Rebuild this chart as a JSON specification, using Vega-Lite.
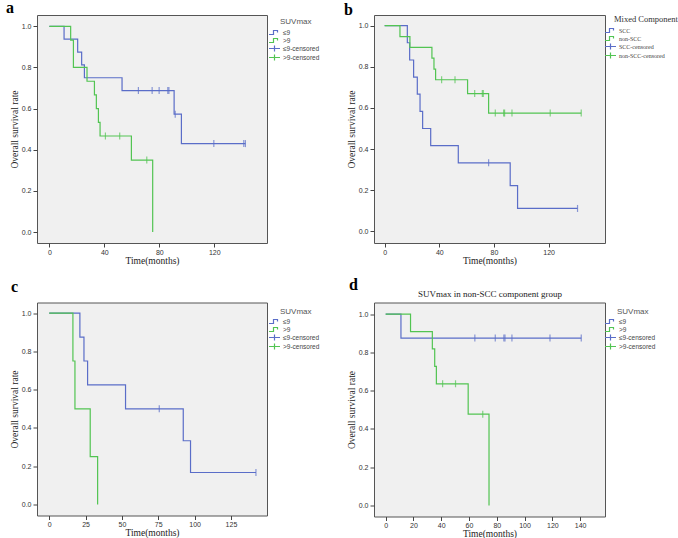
{
  "$schema": "https://vega.github.io/schema/vega-lite/v6.json",
  "background": "white",
  "padding": {"left": 5, "top": -1, "right": 0, "bottom": 0},
  "config": {
    "view": {"fill": "#F0F0F0", "stroke": "#555555", "strokeWidth": 1},
    "axis": {"domain": false, "grid": false, "tickColor": "#444444", "tickSize": 4, "labelFont": "Liberation Sans", "labelFontSize": 7, "labelColor": "#333333", "labelPadding": 2, "titleFont": "Liberation Serif", "titleFontSize": 9.5, "titleFontWeight": "normal", "titleColor": "#222222", "titlePadding": 2},
    "axisX": {"labelPadding": 1, "titlePadding": 0},
    "legend": {"orient": "none", "padding": 0, "symbolSize": 25, "rowPadding": 0, "labelOffset": 5, "symbolStrokeWidth": 1.2, "titleFontWeight": "normal", "labelColor": "#444444", "labelLimit": 200, "titleLimit": 200},
    "title": {"font": "Liberation Serif", "fontSize": 16, "fontWeight": "bold", "anchor": "start", "frame": "group", "color": "#000000", "baseline": "alphabetic"}
  },
  "columns": 2,
  "spacing": {"row": 59.5, "column": 107},
  "bounds": "flush",
  "resolve": {"scale": {"color": "independent"}, "legend": {"color": "independent"}},
  "concat": [
        {
          "width": 230, "height": 228,
          "title": {"text": "a", "dx": -31, "offset": -1},
          "data": {"values": [
            {"t": 0, "s": 1, "g": "≤9"}, {"t": 10.7, "s": 0.9375, "g": "≤9"}, {"t": 20.6, "s": 0.875, "g": "≤9"}, {"t": 23.5, "s": 0.8125, "g": "≤9"}, {"t": 25.5, "s": 0.75, "g": "≤9"}, {"t": 52.9, "s": 0.6875, "g": "≤9"},
            {"t": 64.8, "s": 0.6875, "g": "≤9", "cg": "≤9-censored"}, {"t": 74.8, "s": 0.6875, "g": "≤9", "cg": "≤9-censored"}, {"t": 79.9, "s": 0.6875, "g": "≤9", "cg": "≤9-censored"}, {"t": 86.2, "s": 0.6875, "g": "≤9", "cg": "≤9-censored"}, {"t": 87.0, "s": 0.6875, "g": "≤9", "cg": "≤9-censored"},
            {"t": 90.8, "s": 0.573, "g": "≤9"}, {"t": 91.6, "s": 0.573, "g": "≤9", "cg": "≤9-censored"}, {"t": 96.1, "s": 0.43, "g": "≤9"}, {"t": 119.7, "s": 0.43, "g": "≤9", "cg": "≤9-censored"}, {"t": 141.5, "s": 0.43, "g": "≤9", "cg": "≤9-censored"}, {"t": 142.7, "s": 0.43, "g": "≤9", "cg": "≤9-censored"},
            {"t": 0, "s": 1, "g": ">9"}, {"t": 15.5, "s": 0.933, "g": ">9"}, {"t": 17.5, "s": 0.8, "g": ">9"}, {"t": 27.4, "s": 0.733, "g": ">9"}, {"t": 32.8, "s": 0.667, "g": ">9"}, {"t": 34.2, "s": 0.6, "g": ">9"}, {"t": 35.7, "s": 0.533, "g": ">9"}, {"t": 36.9, "s": 0.467, "g": ">9"},
            {"t": 40.8, "s": 0.467, "g": ">9", "cg": ">9-censored"}, {"t": 51.2, "s": 0.467, "g": ">9", "cg": ">9-censored"}, {"t": 59.7, "s": 0.35, "g": ">9"}, {"t": 70.9, "s": 0.35, "g": ">9", "cg": ">9-censored"}, {"t": 75.2, "s": 0, "g": ">9"}
          ]},
          "layer": [
            {
              "mark": {"type": "line", "interpolate": "step-after", "strokeWidth": 1.2},
              "encoding": {
                "x": {"field": "t", "type": "quantitative", "scale": {"domain": [-9, 158.4], "nice": false, "zero": false}, "axis": {"title": "Time(months)", "values": [0, 20, 40, 60, 80, 100, 120, 140]}},
                "y": {"field": "s", "type": "quantitative", "scale": {"domain": [-0.053, 1.055], "nice": false, "zero": false}, "axis": {"title": "Overall survival rate", "values": [0, 0.2, 0.4, 0.6, 0.8, 1], "format": ".1f"}},
                "color": {"field": "g", "type": "nominal", "scale": {"domain": ["≤9", ">9", "≤9-censored", ">9-censored"], "range": ["#5A6DC8", "#52C452", "#5A6DC8", "#52C452"]},
                  "legend": {"title": "SUVmax", "legendX": 234, "legendY": 2.5, "titleFont": "Liberation Sans", "titleFontSize": 8, "titleColor": "#555555", "titlePadding": 3.5, "labelFont": "Liberation Sans", "labelFontSize": 6.5, "rowPadding": -2.9,
                    "encode": {"symbols": {"update": {"shape": {"signal": "test(/censored/, datum.value) ? 'M-2.2,0L2.2,0M0,-1.2L0,1.2' : 'M-2.2,0.8L-0.4,0.8L-0.4,-0.8L1.2,-0.8L1.2,0'"}, "fill": {"value": "transparent"}, "fillOpacity": {"value": 0}}}, "title": {"update": {"dx": {"value": 9}}}}}}
              }
            },
            {
              "transform": [{"filter": "datum.cg != null"}],
              "mark": {"type": "tick", "orient": "vertical", "size": 7, "thickness": 1.2},
              "encoding": {
                "x": {"field": "t", "type": "quantitative"},
                "y": {"field": "s", "type": "quantitative"},
                "color": {"field": "cg", "type": "nominal"}
              }
            }
          ]
        },
        {
          "width": 231, "height": 228,
          "title": {"text": "b", "dx": -30, "offset": -3.7},
          "data": {"values": [
            {"t": 0, "s": 1, "g": "SCC"}, {"t": 16.6, "s": 0.917, "g": "SCC"}, {"t": 18.3, "s": 0.833, "g": "SCC"}, {"t": 21.2, "s": 0.75, "g": "SCC"}, {"t": 23.9, "s": 0.667, "g": "SCC"}, {"t": 25.9, "s": 0.583, "g": "SCC"}, {"t": 27.8, "s": 0.5, "g": "SCC"}, {"t": 33.7, "s": 0.417, "g": "SCC"}, {"t": 53.9, "s": 0.333, "g": "SCC"},
            {"t": 76.1, "s": 0.333, "g": "SCC", "cg": "SCC-censored"}, {"t": 91.9, "s": 0.222, "g": "SCC"}, {"t": 97.3, "s": 0.111, "g": "SCC"}, {"t": 141.2, "s": 0.111, "g": "SCC", "cg": "SCC-censored"},
            {"t": 0, "s": 1, "g": "non-SCC"}, {"t": 11.2, "s": 0.947, "g": "non-SCC"}, {"t": 18.5, "s": 0.895, "g": "non-SCC"}, {"t": 34.6, "s": 0.842, "g": "non-SCC"}, {"t": 36.1, "s": 0.789, "g": "non-SCC"}, {"t": 37.3, "s": 0.737, "g": "non-SCC"},
            {"t": 41.7, "s": 0.737, "g": "non-SCC", "cg": "non-SCC-censored"}, {"t": 51.5, "s": 0.737, "g": "non-SCC", "cg": "non-SCC-censored"}, {"t": 60.7, "s": 0.67, "g": "non-SCC"},
            {"t": 65.9, "s": 0.67, "g": "non-SCC", "cg": "non-SCC-censored"}, {"t": 71.5, "s": 0.67, "g": "non-SCC", "cg": "non-SCC-censored"}, {"t": 72.2, "s": 0.67, "g": "non-SCC", "cg": "non-SCC-censored"}, {"t": 76.1, "s": 0.575, "g": "non-SCC"},
            {"t": 81.0, "s": 0.575, "g": "non-SCC", "cg": "non-SCC-censored"}, {"t": 87.1, "s": 0.575, "g": "non-SCC", "cg": "non-SCC-censored"}, {"t": 87.8, "s": 0.575, "g": "non-SCC", "cg": "non-SCC-censored"}, {"t": 93.2, "s": 0.575, "g": "non-SCC", "cg": "non-SCC-censored"}, {"t": 121.2, "s": 0.575, "g": "non-SCC", "cg": "non-SCC-censored"}, {"t": 143.9, "s": 0.575, "g": "non-SCC", "cg": "non-SCC-censored"}
          ]},
          "layer": [
            {
              "mark": {"type": "line", "interpolate": "step-after", "strokeWidth": 1.2},
              "encoding": {
                "x": {"field": "t", "type": "quantitative", "scale": {"domain": [-7.8, 161.3], "nice": false, "zero": false}, "axis": {"title": "Time(months)", "values": [0, 20, 40, 60, 80, 100, 120, 140]}},
                "y": {"field": "s", "type": "quantitative", "scale": {"domain": [-0.057, 1.052], "nice": false, "zero": false}, "axis": {"title": "Overall survival rate", "values": [0, 0.2, 0.4, 0.6, 0.8, 1], "format": ".1f"}},
                "color": {"field": "g", "type": "nominal", "scale": {"domain": ["SCC", "non-SCC", "SCC-censored", "non-SCC-censored"], "range": ["#5A6DC8", "#52C452", "#5A6DC8", "#52C452"]},
                  "legend": {"title": "Mixed Component", "legendX": 233, "legendY": -0.5, "titleFont": "Liberation Serif", "titleFontSize": 8.5, "titleColor": "#333333", "titlePadding": 4, "labelFont": "Liberation Serif", "labelFontSize": 6, "rowPadding": -2,
                    "encode": {"symbols": {"update": {"shape": {"signal": "test(/censored/, datum.value) ? 'M-2.2,0L2.2,0M0,-1.2L0,1.2' : 'M-2.2,0.8L-0.4,0.8L-0.4,-0.8L1.2,-0.8L1.2,0'"}, "fill": {"value": "transparent"}, "fillOpacity": {"value": 0}}}, "title": {"update": {"dx": {"value": 7}}}}}}
              }
            },
            {
              "transform": [{"filter": "datum.cg != null"}],
              "mark": {"type": "tick", "orient": "vertical", "size": 7, "thickness": 1.2},
              "encoding": {
                "x": {"field": "t", "type": "quantitative"},
                "y": {"field": "s", "type": "quantitative"},
                "color": {"field": "cg", "type": "nominal"}
              }
            }
          ]
        },
        {
          "width": 230, "height": 213,
          "title": {"text": "c", "dx": -26, "offset": 7.5},
          "data": {"values": [
            {"t": 0, "s": 1, "g": "≤9"}, {"t": 21.1, "s": 0.875, "g": "≤9"}, {"t": 23.9, "s": 0.75, "g": "≤9"}, {"t": 26.4, "s": 0.625, "g": "≤9"}, {"t": 52.5, "s": 0.5, "g": "≤9"}, {"t": 75.7, "s": 0.5, "g": "≤9", "cg": "≤9-censored"}, {"t": 92.2, "s": 0.333, "g": "≤9"}, {"t": 97.2, "s": 0.167, "g": "≤9"}, {"t": 142.2, "s": 0.167, "g": "≤9", "cg": "≤9-censored"},
            {"t": 0, "s": 1, "g": ">9"}, {"t": 16.3, "s": 0.75, "g": ">9"}, {"t": 17.7, "s": 0.5, "g": ">9"}, {"t": 28.2, "s": 0.25, "g": ">9"}, {"t": 33.3, "s": 0, "g": ">9"}
          ]},
          "layer": [
            {
              "mark": {"type": "line", "interpolate": "step-after", "strokeWidth": 1.2},
              "encoding": {
                "x": {"field": "t", "type": "quantitative", "scale": {"domain": [-8.4, 149.8], "nice": false, "zero": false}, "axis": {"title": "Time(months)", "values": [0, 25, 50, 75, 100, 125]}},
                "y": {"field": "s", "type": "quantitative", "scale": {"domain": [-0.058, 1.056], "nice": false, "zero": false}, "axis": {"title": "Overall survival rate", "values": [0, 0.2, 0.4, 0.6, 0.8, 1], "format": ".1f"}},
                "color": {"field": "g", "type": "nominal", "scale": {"domain": ["≤9", ">9", "≤9-censored", ">9-censored"], "range": ["#5A6DC8", "#52C452", "#5A6DC8", "#52C452"]},
                  "legend": {"title": "SUVmax", "legendX": 234, "legendY": 5, "titleFont": "Liberation Sans", "titleFontSize": 8, "titleColor": "#555555", "titlePadding": 2.5, "labelFont": "Liberation Sans", "labelFontSize": 6.5, "rowPadding": -2.4,
                    "encode": {"symbols": {"update": {"shape": {"signal": "test(/censored/, datum.value) ? 'M-2.2,0L2.2,0M0,-1.2L0,1.2' : 'M-2.2,0.8L-0.4,0.8L-0.4,-0.8L1.2,-0.8L1.2,0'"}, "fill": {"value": "transparent"}, "fillOpacity": {"value": 0}}}, "title": {"update": {"dx": {"value": 9}}}}}}
              }
            },
            {
              "transform": [{"filter": "datum.cg != null"}],
              "mark": {"type": "tick", "orient": "vertical", "size": 7, "thickness": 1.2},
              "encoding": {
                "x": {"field": "t", "type": "quantitative"},
                "y": {"field": "s", "type": "quantitative"},
                "color": {"field": "cg", "type": "nominal"}
              }
            }
          ]
        },
        {
          "width": 231, "height": 214,
          "title": {"text": "d", "dx": -25, "offset": -3.5},
          "data": {"values": [
            {"t": 0, "s": 1, "g": "≤9"}, {"t": 11.0, "s": 0.875, "g": "≤9"}, {"t": 64.2, "s": 0.875, "g": "≤9", "cg": "≤9-censored"}, {"t": 78.9, "s": 0.875, "g": "≤9", "cg": "≤9-censored"}, {"t": 85.1, "s": 0.875, "g": "≤9", "cg": "≤9-censored"}, {"t": 85.9, "s": 0.875, "g": "≤9", "cg": "≤9-censored"}, {"t": 90.9, "s": 0.875, "g": "≤9", "cg": "≤9-censored"}, {"t": 118.3, "s": 0.875, "g": "≤9", "cg": "≤9-censored"}, {"t": 140.8, "s": 0.875, "g": "≤9", "cg": "≤9-censored"},
            {"t": 0, "s": 1, "g": ">9"}, {"t": 17.9, "s": 0.909, "g": ">9"}, {"t": 33.6, "s": 0.818, "g": ">9"}, {"t": 35.3, "s": 0.727, "g": ">9"}, {"t": 36.5, "s": 0.636, "g": ">9"}, {"t": 41.0, "s": 0.636, "g": ">9", "cg": ">9-censored"}, {"t": 50.3, "s": 0.636, "g": ">9", "cg": ">9-censored"}, {"t": 59.4, "s": 0.477, "g": ">9"}, {"t": 69.9, "s": 0.477, "g": ">9", "cg": ">9-censored"}, {"t": 74.4, "s": 0, "g": ">9"}
          ]},
          "layer": [
            {
              "mark": {"type": "line", "interpolate": "step-after", "strokeWidth": 1.2},
              "encoding": {
                "x": {"field": "t", "type": "quantitative", "scale": {"domain": [-8.4, 157.9], "nice": false, "zero": false}, "axis": {"orient": "bottom", "title": "Time(months)", "values": [0, 20, 40, 60, 80, 100, 120, 140]}},
                "y": {"field": "s", "type": "quantitative", "scale": {"domain": [-0.058, 1.061], "nice": false, "zero": false}, "axis": {"title": "Overall survival rate", "values": [0, 0.2, 0.4, 0.6, 0.8, 1], "format": ".1f"}},
                "color": {"field": "g", "type": "nominal", "scale": {"domain": ["≤9", ">9", "≤9-censored", ">9-censored"], "range": ["#5A6DC8", "#52C452", "#5A6DC8", "#52C452"]},
                  "legend": {"title": "SUVmax", "legendX": 233, "legendY": 5, "titleFont": "Liberation Sans", "titleFontSize": 8, "titleColor": "#555555", "titlePadding": 2.5, "labelFont": "Liberation Sans", "labelFontSize": 6.5, "rowPadding": -2.4,
                    "encode": {"symbols": {"update": {"shape": {"signal": "test(/censored/, datum.value) ? 'M-2.2,0L2.2,0M0,-1.2L0,1.2' : 'M-2.2,0.8L-0.4,0.8L-0.4,-0.8L1.2,-0.8L1.2,0'"}, "fill": {"value": "transparent"}, "fillOpacity": {"value": 0}}}, "title": {"update": {"dx": {"value": 10}}}}}}
              }
            },
            {
              "transform": [{"filter": "datum.cg != null"}],
              "mark": {"type": "tick", "orient": "vertical", "size": 7, "thickness": 1.2},
              "encoding": {
                "x": {"field": "t", "type": "quantitative", "axis": {"orient": "top", "title": "SUVmax in non-SCC component group", "labels": false, "ticks": false, "domain": false, "titleFontSize": 9, "titlePadding": 4.5}},
                "y": {"field": "s", "type": "quantitative"},
                "color": {"field": "cg", "type": "nominal"}
              }
            }
          ],
          "resolve": {"axis": {"x": "independent"}}
        }
  ]
}
